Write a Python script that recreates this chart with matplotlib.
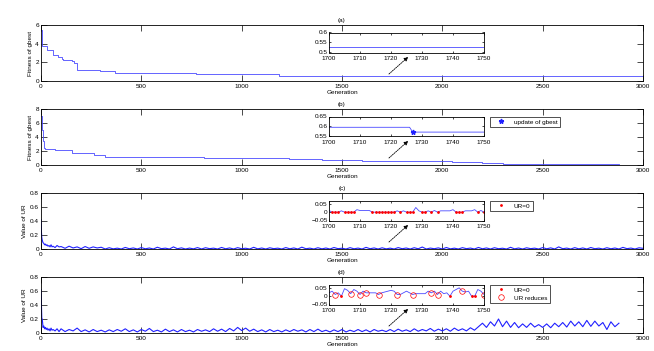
import matplotlib
matplotlib.use("Agg")
import matplotlib.pyplot as plt
import numpy as np
from matplotlib.ticker import FuncFormatter

plt.rcParams['font.family'] = ['Liberation Sans', 'DejaVu Sans']
FS = 4.6
BLUE = '#2020ff'
LBLUE = '#4a4aff'

# ---- (a) fitness of gbest, step data
a_gen = [0, 3, 28, 62, 85, 103, 112, 153, 165, 178, 295, 370, 770, 1187, 1500, 1700, 2300, 3000]
a_fit = [5.5, 3.8, 3.3, 2.75, 2.6, 2.4, 2.2, 2.1, 1.95, 1.15, 1.05, 0.9, 0.72, 0.58, 0.55, 0.53, 0.5, 0.5]
ins_a_gen = [1700, 1750]
ins_a_fit = [0.529, 0.529]

# ---- (b) fitness of gbest, step data
b_gen = [0, 3, 6, 10, 14, 18, 70, 153, 262, 320, 812, 1237, 1400, 1600, 1727,
         2000, 2050, 2100, 2150, 2200, 2250, 2300, 2400, 2600, 2880]
b_fit = [7.0, 6.0, 5.0, 3.5, 2.5, 2.3, 2.1, 1.7, 1.4, 1.15, 0.95, 0.8, 0.65, 0.596, 0.572,
         0.55, 0.5, 0.45, 0.38, 0.3, 0.24, 0.18, 0.15, 0.12, 0.12]
ins_b_gen = [1700, 1726, 1727, 1750]
ins_b_fit = [0.596, 0.596, 0.572, 0.572]
upd_gen = [1727]
upd_fit = [0.572]

# ---- (c) value of UR
c_gen_early = [0, 2, 4, 6, 8, 10, 14, 18, 22, 26, 30, 35, 40, 45, 50, 55, 60, 70, 80, 90]
c_early = [0.42, 0.25, 0.16, 0.13, 0.11, 0.09, 0.08, 0.06, 0.07, 0.05, 0.06, 0.04, 0.05, 0.03,
           0.06, 0.03, 0.04, 0.02, 0.05, 0.03]
c_gen = list(range(100, 3001, 20))
c_vals = [
    0.035, 0.01, 0.04, 0.015, 0.03, 0.005, 0.035, 0.01, 0.03, 0.015, 0.025,
    0.0, 0.018, 0.002, 0.012, 0.0, 0.022, 0.004, 0.015, 0.0, 0.02, 0.003, 0.014, 0.0, 0.025, 0.005,
    0.012, 0.0, 0.03, 0.004, 0.016, 0.0, 0.013, 0.002, 0.02, 0.0, 0.018, 0.005, 0.012, 0.0, 0.022,
    0.003, 0.015, 0.0, 0.019, 0.004, 0.011, 0.0, 0.024, 0.002, 0.014, 0.0, 0.017, 0.005, 0.012, 0.0,
    0.02, 0.003, 0.015, 0.0, 0.026, 0.004, 0.012, 0.0, 0.018, 0.002, 0.014, 0.0, 0.021, 0.005, 0.011,
    0.0, 0.019, 0.003, 0.013, 0.0, 0.023, 0.004, 0.015, 0.0, 0.017, 0.002, 0.012, 0.0, 0.02, 0.004,
    0.014, 0.0, 0.018, 0.003, 0.028, 0.0, 0.013, 0.004, 0.016, 0.0, 0.021, 0.002, 0.012, 0.0, 0.019,
    0.005, 0.013, 0.0, 0.022, 0.003, 0.015, 0.0, 0.018, 0.004, 0.011, 0.0, 0.024, 0.002, 0.014, 0.0,
    0.017, 0.005, 0.012, 0.0, 0.02, 0.003, 0.016, 0.0, 0.03, 0.004, 0.013, 0.0, 0.019, 0.002, 0.015,
    0.0, 0.021, 0.004, 0.012, 0.0, 0.018, 0.003, 0.014, 0.0, 0.023, 0.005, 0.013, 0.0, 0.017, 0.01,
]
ins_gen = list(range(1700, 1751))
ins_c = [0.01, 0, 0, 0, 0.008, 0, 0, 0, 0, 0.015, 0.01, 0.01, 0.01, 0.01,
         0, 0, 0, 0, 0, 0, 0, 0,
         0.008, 0, 0.008, 0, 0, 0, 0.028, 0.008, 0, 0, 0.008, 0, 0.01, 0, 0.008, 0.008, 0.008,
         0.008, 0.015, 0, 0, 0, 0.008, 0.008, 0.008, 0.015, 0, 0.01, 0]

# ---- (d) value of UR
d_gen_early = [0, 2, 4, 6, 8, 10, 14, 18, 22, 26, 30, 35, 40, 45, 50, 55, 60, 70, 80, 90]
d_early = [0.62, 0.4, 0.21, 0.2, 0.15, 0.08, 0.1, 0.06, 0.08, 0.05, 0.07, 0.04, 0.06, 0.03,
           0.07, 0.04, 0.05, 0.03, 0.06, 0.02]
d_gen = list(range(100, 2881, 20))
d_vals = [
    0.06, 0.02, 0.05, 0.03, 0.07, 0.02, 0.045, 0.015, 0.05, 0.02, 0.04, 0.015, 0.045, 0.02, 0.05,
    0.025, 0.06, 0.02, 0.045, 0.015, 0.05, 0.025, 0.065, 0.02, 0.04, 0.015, 0.055, 0.02, 0.045, 0.015,
    0.05, 0.02, 0.04, 0.015, 0.05, 0.025, 0.045, 0.02, 0.06, 0.025, 0.055, 0.02, 0.065, 0.03, 0.08,
    0.035, 0.07, 0.025, 0.055, 0.02, 0.045, 0.015, 0.05, 0.02, 0.04, 0.015, 0.045, 0.02, 0.05, 0.025,
    0.045, 0.015, 0.05, 0.02, 0.055, 0.02, 0.04, 0.015, 0.045, 0.02, 0.05, 0.015, 0.04, 0.02, 0.05,
    0.02, 0.045, 0.015, 0.05, 0.025, 0.04, 0.02, 0.05, 0.02, 0.055, 0.025, 0.045, 0.02, 0.06, 0.025,
    0.05, 0.03, 0.065, 0.025, 0.055, 0.03, 0.06, 0.025, 0.07, 0.035, 0.06, 0.03, 0.075, 0.04, 0.09,
    0.14, 0.08, 0.16, 0.1, 0.2, 0.09, 0.17, 0.08, 0.15, 0.075, 0.13, 0.08, 0.14, 0.085, 0.12,
    0.08, 0.13, 0.075, 0.14, 0.09, 0.15, 0.085, 0.17, 0.1, 0.16, 0.09, 0.18, 0.095, 0.17, 0.1,
    0.15, 0.05, 0.16, 0.09, 0.14,
]
ins_d = [0.02, 0.03, 0.01, 0.02, 0.0, 0.045, 0.035, 0.015, 0.04, 0.03, 0.01, 0.03, 0.02, 0.02,
         0.02, 0.02, 0.01, 0.02, 0.025, 0.03, 0.035, 0.03, 0.01, 0.01, 0.02, 0.03, 0.02, 0.01,
         0.015, 0.015, 0.015, 0.015, 0.03, 0.02, 0.03, 0.01, 0.03, 0.015, 0.02, 0.0, 0.03, 0.04,
         0.05, 0.03, 0.025, 0.03, 0.0, 0.0, 0.04, 0.03, 0.01]
red_gen = [1702, 1707, 1710, 1712, 1716, 1722, 1727, 1733, 1735, 1743, 1750]

W, H = 654, 351
fig = plt.figure(figsize=(W / 100, H / 100), dpi=100)


def add_px(left, top, width, height):
    return fig.add_axes([left / W, 1 - (top + height) / H, width / W, height / H])


def style(ax, length, xpad, ypad):
    ax.tick_params(direction='in', top=True, right=True, labelsize=FS,
                   length=length, width=0.5)
    ax.tick_params(axis='x', pad=xpad)
    ax.tick_params(axis='y', pad=ypad)
    for s in ax.spines.values():
        s.set_linewidth(0.6)
    ax.yaxis.set_major_formatter(FuncFormatter(lambda v, p: f"{v:g}".replace('-', '\u2212')))


tops = [25, 109, 193, 277]
titles = ['(a)', '(b)', '(c)', '(d)']
ylabels = ['Fitness of gbest', 'Fitness of gbest', 'Value of UR', 'Value of UR']
mains, insets = [], []
for top, t, yl in zip(tops, titles, ylabels):
    ax = add_px(41, top, 602, 56)
    style(ax, 4.3, 1.8, 1.5)
    ax.set_xlim(0, 3000)
    ax.set_xticks(range(0, 3001, 500))
    ax.set_title(t, fontsize=FS, pad=2.5)
    ax.set_xlabel('Generation', fontsize=FS, labelpad=1.2)
    ax.set_ylabel(yl, fontsize=FS, labelpad=2)
    ax.annotate('', xy=(0.61, 0.43), xycoords='axes fraction',
                xytext=(0.578, 0.125), textcoords='axes fraction',
                arrowprops=dict(arrowstyle='-|>', linestyle=(0, (1.5, 1.2)), lw=0.6,
                                color='k', mutation_scale=6, shrinkA=0, shrinkB=0))
    ins = add_px(329, top + 7.5, 155, 20)
    style(ins, 1.5, 2.2, 1.0)
    ins.set_xlim(1700, 1750)
    ins.set_xticks(range(1700, 1751, 10))
    mains.append(ax)
    insets.append(ins)

# (a)
ax, ins = mains[0], insets[0]
ax.plot(a_gen, a_fit, drawstyle='steps-post', color=LBLUE, lw=0.6)
ax.set_ylim(0, 6)
ax.set_yticks([0, 2, 4, 6])
ins.plot(ins_a_gen, ins_a_fit, color=LBLUE, lw=0.6)
ins.set_ylim(0.5, 0.6)
ins.set_yticks([0.5, 0.55, 0.6])

# (b)
ax, ins = mains[1], insets[1]
ax.plot(b_gen, b_fit, drawstyle='steps-post', color=LBLUE, lw=0.6)
ax.set_ylim(0, 8)
ax.set_yticks([0, 2, 4, 6, 8])
ins.plot(ins_b_gen, ins_b_fit, color=LBLUE, lw=0.6)
ins.plot(upd_gen, upd_fit, '*', color=BLUE, ms=3.5, label='update of gbest')
ins.set_ylim(0.55, 0.65)
ins.set_yticks([0.55, 0.6, 0.65])

# (c)
ax, ins = mains[2], insets[2]
ax.plot(c_gen_early + c_gen, c_early + c_vals, color=BLUE, lw=0.8)
ax.set_ylim(0, 0.8)
ax.set_yticks([0, 0.2, 0.4, 0.6, 0.8])
ins.plot(ins_gen, ins_c, color=LBLUE, lw=0.6)
zc = np.array(ins_c) == 0
ins.plot(np.array(ins_gen)[zc], np.array(ins_c)[zc], '.', color='r', ms=2, label='UR=0')
ins.set_ylim(-0.05, 0.07)
ins.set_yticks([-0.05, 0, 0.05])

# (d)
ax, ins = mains[3], insets[3]
ax.plot(d_gen_early + d_gen, d_early + d_vals, color=BLUE, lw=0.8)
ax.set_ylim(0, 0.8)
ax.set_yticks([0, 0.2, 0.4, 0.6, 0.8])
ins.plot(ins_gen, ins_d, color=LBLUE, lw=0.6)
zd = np.array(ins_d) == 0
ins.plot(np.array(ins_gen)[zd], np.array(ins_d)[zd], '.', color='r', ms=2, label='UR=0')
red_val = [ins_d[ins_gen.index(g)] for g in red_gen]
ins.plot(red_gen, red_val, 'o', mfc='none', mec='r', mew=0.5, ms=4, label='UR reduces')
ins.set_ylim(-0.05, 0.07)
ins.set_yticks([-0.05, 0, 0.05])

for i in (1, 2, 3):
    leg = insets[i].legend(loc='upper left', bbox_to_anchor=(490 / W, 1 - (tops[i] + 7.5) / H),
                           bbox_transform=fig.transFigure, fontsize=FS, frameon=True,
                           fancybox=False, edgecolor='k', borderpad=0.4, handlelength=2.5,
                           borderaxespad=0, handletextpad=0.8, labelspacing=0.4)
    leg.get_frame().set_linewidth(0.6)

fig.savefig('out.png', dpi=100)
